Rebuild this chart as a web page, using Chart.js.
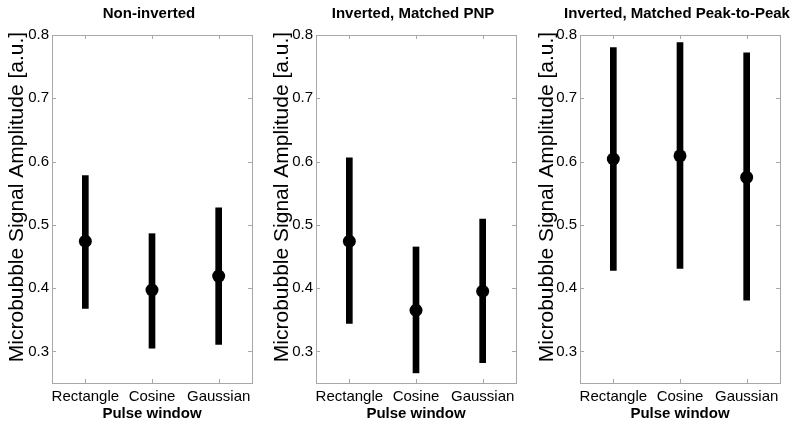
<!DOCTYPE html>
<html><head><meta charset="utf-8">
<script src="https://cdn.jsdelivr.net/npm/chart.js@4/dist/chart.umd.min.js"></script>
<style>
html,body{margin:0;padding:0;background:#fff;width:800px;height:427px;overflow:hidden;}
canvas.p{position:absolute;top:0;}
</style></head><body>
<canvas id="c1" class="p" style="left:0px" width="265" height="427"></canvas>
<canvas id="c2" class="p" style="left:265px" width="265" height="427"></canvas>
<canvas id="c3" class="p" style="left:530px" width="270" height="427"></canvas>
<script>
// ---- data ----
const categories = ['Rectangle', 'Cosine', 'Gaussian'];
const panelTitles = ['Non-inverted', 'Inverted, Matched PNP', 'Inverted, Matched Peak-to-Peak'];
const yTicks = [0.3, 0.4, 0.5, 0.6, 0.7, 0.8];
const yTitle = 'Microbubble Signal Amplitude [a.u.]';
const xTitle = 'Pulse window';

const means1 = [0.474, 0.397, 0.419];
const lower1 = [0.368, 0.305, 0.311];
const upper1 = [0.578, 0.486, 0.527];

const means2 = [0.474, 0.365, 0.395];
const lower2 = [0.344, 0.266, 0.282];
const upper2 = [0.606, 0.465, 0.509];

const means3 = [0.604, 0.609, 0.575];
const lower3 = [0.428, 0.431, 0.381];
const upper3 = [0.780, 0.788, 0.772];

// ---- rendering ----
const FONT = '"Liberation Sans", Arial, Helvetica, sans-serif';
Chart.defaults.font.family = FONT;
Chart.defaults.color = '#000';

const boxPlugin = {
  id: 'matlabBox',
  beforeDatasetsDraw(chart) {
    const {ctx, chartArea: a, scales} = chart;
    ctx.save();
    ctx.strokeStyle = '#a8a8a8';
    ctx.lineWidth = 1;
    ctx.strokeRect(Math.round(a.left) + 0.5, Math.round(a.top) + 0.5,
                   Math.round(a.right - a.left), Math.round(a.bottom - a.top));
    ctx.beginPath();
    const tl = 4;
    scales.y.ticks.forEach(t => {
      const y = Math.round(scales.y.getPixelForValue(t.value)) + 0.5;
      ctx.moveTo(a.left, y); ctx.lineTo(a.left + tl, y);
      ctx.moveTo(a.right - tl, y); ctx.lineTo(a.right, y);
    });
    categories.forEach((c, i) => {
      const x = Math.round(scales.x.getPixelForValue(i)) + 0.5;
      ctx.moveTo(x, a.bottom); ctx.lineTo(x, a.bottom - tl);
      ctx.moveTo(x, a.top); ctx.lineTo(x, a.top + tl);
    });
    ctx.stroke();
    ctx.restore();
  },
  afterDraw(chart) {
    const {ctx, chartArea: a} = chart;
    const o = chart.options.plugins.matlabBox;
    ctx.save();
    ctx.fillStyle = '#000';
    ctx.textAlign = 'center';
    ctx.textBaseline = 'middle';
    ctx.font = 'bold 15px ' + FONT;
    ctx.fillText(o.title, (a.left + a.right) / 2 - 3, 14);
    ctx.translate(17, 197);
    ctx.rotate(-Math.PI / 2);
    ctx.font = '21px ' + FONT;
    ctx.fillText(yTitle, 0, 0);
    ctx.restore();
  }
};

function makePanel(id, title, means, lower, upper, areaLeft, padRight) {
  const ranges = lower.map((lo, i) => [lo, upper[i]]);
  new Chart(document.getElementById(id), {
    type: 'bar',
    data: {
      labels: categories,
      datasets: [
        {
          type: 'line',
          data: means,
          showLine: false,
          pointRadius: 6.5,
          pointHoverRadius: 6.5,
          pointBackgroundColor: '#000',
          pointBorderWidth: 0,
          borderColor: '#000',
          order: 0
        },
        {
          type: 'bar',
          data: ranges,
          backgroundColor: '#000',
          borderWidth: 0,
          barThickness: 6,
          order: 1
        }
      ]
    },
    options: {
      responsive: false,
      animation: false,
      devicePixelRatio: 1,
      layout: {padding: {top: 35, right: padRight, left: 0, bottom: 0}},
      plugins: {
        legend: {display: false},
        tooltip: {enabled: false},
        title: {display: false},
        matlabBox: {title: title}
      },
      scales: {
        x: {
          type: 'category',
          offset: true,
          grid: {display: false, drawTicks: false},
          border: {display: false},
          ticks: {font: {size: 15}, color: '#000', padding: 5, maxRotation: 0, autoSkip: false},
          title: {display: true, text: xTitle, font: {size: 15, weight: 'bold'}, color: '#000', padding: {top: 0, bottom: 4}},
          afterFit(s) { s.height = 44; }
        },
        y: {
          min: 0.25,
          max: 0.8,
          grid: {display: false, drawTicks: false},
          border: {display: false},
          ticks: {font: {size: 15}, color: '#000', padding: 3, callback: v => Number(v).toFixed(1)},
          afterBuildTicks(s) { s.ticks = yTicks.map(v => ({value: v})); },
          afterFit(s) { s.width = areaLeft; }
        }
      }
    },
    plugins: [boxPlugin]
  });
}

makePanel('c1', panelTitles[0], means1, lower1, upper1, 52, 13);
makePanel('c2', panelTitles[1], means2, lower2, upper2, 51, 14);
makePanel('c3', panelTitles[2], means3, lower3, upper3, 50, 20);
</script>
</body></html>
